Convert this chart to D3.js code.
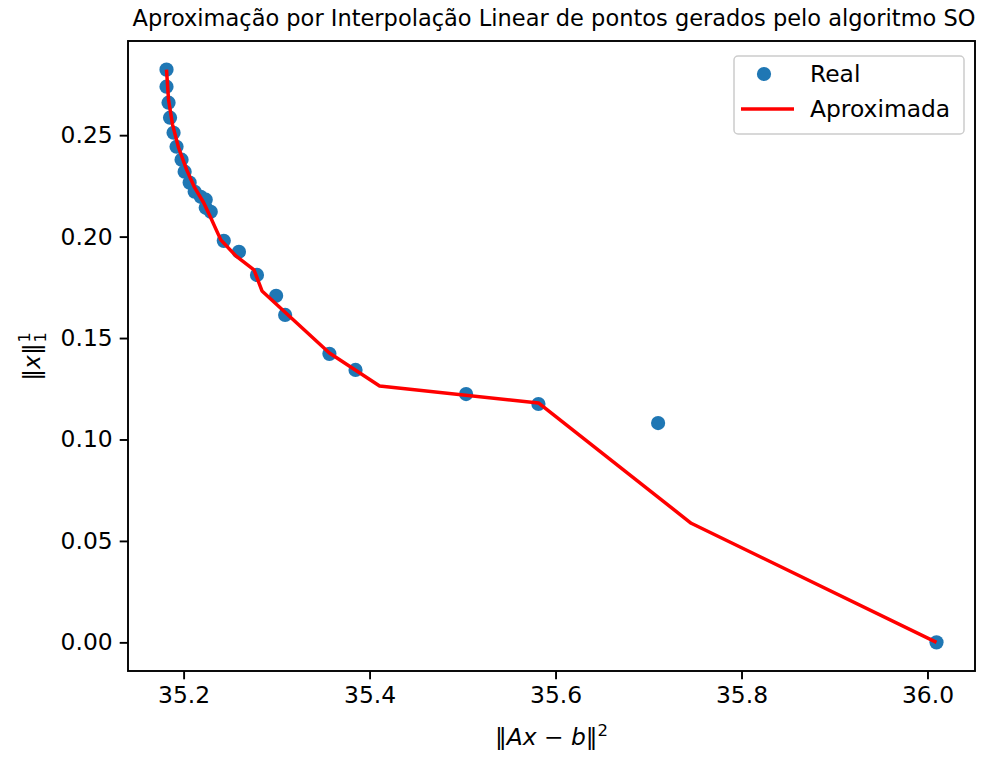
<!DOCTYPE html>
<html><head><meta charset="utf-8">
<script src="https://cdn.jsdelivr.net/npm/d3@7"></script>
<style>
html,body{margin:0;padding:0;background:#fff;}
text{font-family:"DejaVu Sans",sans-serif;fill:#000;}
</style></head>
<body>
<svg id="chart" width="998" height="758"></svg>
<script>
// ---- data ----
const realX = [35.1816,35.1816,35.1838,35.1854,35.1892,35.1924,35.1978,35.2011,35.2065,35.2119,35.2184,35.2238,35.2238,35.2292,35.2432,35.2595,35.2789,35.2995,35.3092,35.3568,35.3849,35.5038,35.5816,35.7103,36.0097];
const realY = [0.2823,0.2739,0.2660,0.2586,0.2512,0.2443,0.2379,0.2320,0.2266,0.2221,0.2196,0.2182,0.2142,0.2122,0.1979,0.1925,0.1811,0.1708,0.1614,0.1422,0.1343,0.1224,0.1175,0.1081,0.0000];
const approxX = [35.1816,35.1838,35.1881,35.1946,35.2032,35.2119,35.2216,35.2292,35.2400,35.2562,35.2757,35.2843,35.3568,35.4108,35.5816,35.7459,36.0097];
const approxY = [0.2823,0.2675,0.2552,0.2438,0.2330,0.2241,0.2167,0.2093,0.1984,0.1905,0.1836,0.1732,0.1426,0.1264,0.1180,0.0587,0.0000];
const xTicks = [35.2,35.4,35.6,35.8,36.0];
const yTicks = [0.00,0.05,0.10,0.15,0.20,0.25];
const title = "Aproximação por Interpolação Linear de pontos gerados pelo algoritmo SO";
const legendLabels = ["Real","Aproximada"];

const svg = d3.select("#chart");
const L=128, R=975, T=41, B=671;
const FS = 23.4;

function padDomain(arr){
  const mn=d3.min(arr), mx=d3.max(arr), m=(mx-mn)*0.05;
  return [mn-m, mx+m];
}
const x = d3.scaleLinear().domain(padDomain(realX.concat(approxX))).range([L,R]);
const y = d3.scaleLinear().domain(padDomain(realY.concat(approxY))).range([B,T]);

// axes
const xAxis = d3.axisBottom(x).tickValues(xTicks).tickFormat(d3.format(".1f")).tickSize(8.3).tickPadding(7);
const yAxis = d3.axisLeft(y).tickValues(yTicks).tickFormat(d3.format(".2f")).tickSize(8.3).tickPadding(7);
const gx = svg.append("g").attr("transform",`translate(0,${B})`).call(xAxis);
const gy = svg.append("g").attr("transform",`translate(${L},0)`).call(yAxis);
[gx,gy].forEach(g=>{
  g.select(".domain").remove();
  g.selectAll(".tick line").attr("stroke","#000").attr("stroke-width",1.9);
  g.selectAll(".tick text").style("font-size",FS+"px").style("font-family","DejaVu Sans").attr("fill","#000");
});

// frame
svg.append("rect").attr("x",L).attr("y",T).attr("width",R-L).attr("height",B-T)
  .attr("fill","none").attr("stroke","#000").attr("stroke-width",1.9);

const pts = approxX.map((v,i)=>[v,approxY[i]]);

// scatter
svg.append("g").selectAll("circle").data(realX.map((v,i)=>[v,realY[i]])).join("circle")
  .attr("cx",d=>x(d[0])).attr("cy",d=>y(d[1])).attr("r",7.1).attr("fill","#1f77b4");

// line (drawn after scatter, on top)
svg.append("path").datum(pts)
  .attr("d", d3.line().x(d=>x(d[0])).y(d=>y(d[1])))
  .attr("fill","none").attr("stroke","red").attr("stroke-width",3.5).attr("stroke-linejoin","round");

// title
svg.append("text").attr("x",554).attr("y",26).attr("text-anchor","middle")
  .style("font-size","22.5px").text(title);

// x label
const xl = svg.append("text").attr("x",(L+R)/2).attr("y",745).attr("text-anchor","middle").style("font-size",FS+"px");
xl.append("tspan").text("‖");
xl.append("tspan").style("font-style","italic").text("Ax");
xl.append("tspan").text(" − ");
xl.append("tspan").style("font-style","italic").text("b");
xl.append("tspan").text("‖");
xl.append("tspan").attr("dy",-9).style("font-size","16.5px").text("2");

// y label
const yg = svg.append("g").attr("transform",`translate(40,${(T+B)/2}) rotate(-90)`);
const yl = yg.append("text").attr("x",-6).attr("y",0).attr("text-anchor","middle").style("font-size",FS+"px");
yl.append("tspan").text("‖");
yl.append("tspan").style("font-style","italic").text("x");
yl.append("tspan").text("‖");
const w = yl.node().getComputedTextLength();
yg.append("text").attr("x",-6+w/2+1).attr("y",-10).style("font-size","16px").text("1");
yg.append("text").attr("x",-6+w/2+1).attr("y",6).style("font-size","16px").text("1");

// legend
const lg = svg.append("g");
lg.append("rect").attr("x",734).attr("y",56).attr("width",230).attr("height",78).attr("rx",4)
  .attr("fill","#fff").attr("fill-opacity",0.8).attr("stroke","#cccccc").attr("stroke-width",1.5);
lg.append("circle").attr("cx",764).attr("cy",74).attr("r",7.1).attr("fill","#1f77b4");
lg.append("line").attr("x1",741).attr("x2",794).attr("y1",109).attr("y2",109).attr("stroke","red").attr("stroke-width",3.5);
lg.selectAll("text.lab").data(legendLabels).join("text").attr("class","lab")
  .attr("x",810).attr("y",(d,i)=>74+i*35).attr("dy","0.35em").style("font-size",FS+"px").text(d=>d);
</script>
</body></html>
